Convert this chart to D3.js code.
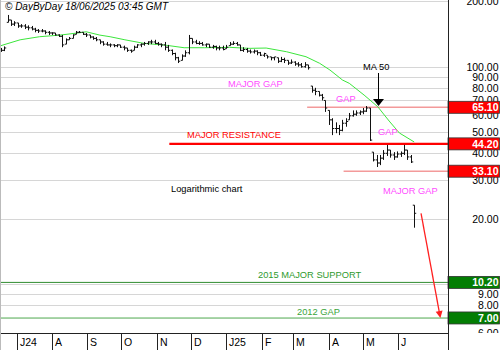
<!DOCTYPE html>
<html>
<head>
<meta charset="utf-8">
<script src="https://cdn.jsdelivr.net/npm/d3@7"></script>
<style>
  body { margin: 0; background: #fff; }
  svg { display: block; font-family: "Liberation Sans", Arial, sans-serif; }
</style>
</head>
<body>
<div id="chart"></div>
<script>
// Price bars: one bar every 3 calendar days starting 17 Jun 2024
var barStart = new Date(2024, 5, 17);
var barStepDays = 3;
var barHigh = [122,124,173,164,162,159,157,157,155,154,151,149,149,147,146,144,143,141,140,135,
  137,141,146,146,144,143,140,138,137,133,131,130,128,127,127,126,125,122,120,125,
  127,128,130,131,133,133,130,128,130,126,120,116,111,114,119,140,135,133,131,130,
  128,127,126,125,125,125,126,130,131,130,126,123,122,120,120,119,117,116,113,111,
  111,110,111,110,107,108,106,105,104,105,102,81.5,80,77,75,70,63,58,55.5,54,
  57,58,61.3,63,63,63,64.6,66,64.6,40.5,39.3,39.3,41.4,43.7,41.4,40.5,40.8,40.8,43.7,41.4,
  39.3,23.1];
var barLow = [117,118,160,154,154,151,151,149,147,147,144,143,144,141,140,140,139,137,123,127,
  133,135,141,143,140,137,135,133,131,127,125,125,123,123,123,122,119,117,116,119,
  122,123,125,126,127,127,125,123,119,117,113,107,104,107,111,114,127,127,126,125,
  123,122,121,119,119,119,121,125,126,125,118,117,116,115,115,113,112,111,109,107,
  107,104,105,104,102,103,101,100,99,99,97,76,74,73,70,62,54,48.5,49.5,48.5,
  50.5,53,57,59,59.5,60,60.5,62,45.6,36.7,34.6,35.3,37.3,38.9,38.2,37.3,38.2,38.5,39.3,37.3,
  36.1,18.2];
var barClose = [119,122,164,157,159,154,154,152,151,149,147,146,146,144,143,143,140,138,126,133,
  135,140,144,144,141,140,137,135,133,130,127,126,126,125,126,123,122,119,118,123,
  126,127,128,130,130,128,127,126,123,119,115,110,106,112,116,135,130,128,128,126,
  127,123,124,122,122,120,123,127,128,126,119,120,118,117,118,116,113,115,111,110,
  111,106,108,107,104,105,103,102,100,102,99,78,77,74,72,64.6,57,52,52,51,
  55,56,59.5,60.5,61.3,62,62.5,64.6,46,37.3,36.1,38,40,41.4,39.3,38.5,39.7,40,41.4,38.5,
  36.5,21.2];

// 50 day moving average
var maDates = ["2024-06-16","2024-07-04","2024-07-21","2024-08-08","2024-08-25","2024-08-31",
  "2024-09-12","2024-09-21","2024-10-04","2024-10-21","2024-11-08","2024-11-25","2024-12-13",
  "2025-01-04","2025-01-21","2025-02-05","2025-02-23","2025-03-12","2025-03-24","2025-04-02",
  "2025-04-13","2025-04-19","2025-05-02","2025-05-14","2025-05-24","2025-06-02","2025-06-15"];
var maValues = [124.5,133,137.4,139.8,143.3,144.8,139.8,137.4,133,128,125.8,122.3,122.3,
  122.8,121.5,121.9,117.2,111.2,103.7,96.6,86.9,83.9,74.1,65.5,56.3,49.6,45.1];

// Right axis (grid on all, labels where not covered by a level box)
var gridTicks = [200, 100, 90, 80, 70, 60, 50, 40, 30, 20, 10, 9, 8, 7, 6];
var labelTicks = [200, 100, 90, 80, 70, 60, 50, 40, 30, 20, 9, 8, 6];

// Key levels
var levelValues = [65.10, 44.20, 33.10, 10.20, 7.00];
var levelFrom = ["2025-03-13", "2024-11-12", "2025-04-14", null, null];
var levelKind = ["gap", "resistance", "gap", "support", "oldgap"];

// Projection arrow (date, price)
var arrowFrom = ["2025-06-21", 21.2];
var arrowTo = ["2025-07-08", 7.0];

var monthLetters = "JFMAMJJASOND";

var W = 500, H = 350, plotRight = 448, plotBottom = 333;
var parse = d3.timeParse("%Y-%m-%d");

var svg = d3.select("#chart").append("svg")
  .attr("width", W).attr("height", H);

var x = d3.scaleTime()
  .domain([new Date(2024, 5, 16, 8), new Date(2025, 6, 14, 16)])
  .range([0, plotRight]);
var y = d3.scaleLog()
  .domain([5.97, 202.7])
  .range([plotBottom, 0]);

// grid
svg.append("g").selectAll("line")
  .data(gridTicks).enter().append("line")
  .attr("x1", 0).attr("x2", plotRight)
  .attr("y1", function(d) { return Math.round(y(d)) + 0.5; })
  .attr("y2", function(d) { return Math.round(y(d)) + 0.5; })
  .attr("stroke", "#d6d6d6");

// right axis labels
svg.append("g").selectAll("text")
  .data(labelTicks).enter().append("text")
  .attr("x", 498.5).attr("y", function(d) { return y(d) + 4; })
  .attr("text-anchor", "end")
  .attr("font-size", "10.5px")
  .text(function(d) { return d3.format(".2f")(d); });

// level lines
var levelStyle = {
  gap: { color: "#f39a9a", w: 1.6 },
  resistance: { color: "#ff0000", w: 2.2 },
  support: { color: "#2e8b2e", w: 1 },
  oldgap: { color: "#8fcb8f", w: 1.6 }
};
levelValues.forEach(function(v, i) {
  var s = levelStyle[levelKind[i]];
  svg.append("line")
    .attr("x1", levelFrom[i] ? x(parse(levelFrom[i])) : 0)
    .attr("x2", plotRight)
    .attr("y1", y(v)).attr("y2", y(v))
    .attr("stroke", s.color).attr("stroke-width", s.w);
});

// moving average
var ma = maDates.map(function(d, i) { return [parse(d), maValues[i]]; });
svg.append("path")
  .datum(ma)
  .attr("fill", "none")
  .attr("stroke", "#3ce63c")
  .attr("stroke-width", 1)
  .attr("d", d3.line()
    .x(function(d) { return x(d[0]); })
    .y(function(d) { return y(d[1]); }));

// price bars
var bars = barClose.map(function(c, i) {
  return {
    date: d3.timeDay.offset(barStart, i * barStepDays),
    high: barHigh[i], low: barLow[i], close: c,
    open: i > 0 ? Math.max(barLow[i], Math.min(barHigh[i], barClose[i - 1])) : c
  };
});
var half = (x(d3.timeDay.offset(barStart, barStepDays)) - x(barStart)) / 2;
var bg = svg.append("g").attr("stroke", "#111").attr("stroke-width", 1);
bars.forEach(function(b) {
  var bx = Math.round(x(b.date)) + 0.5;
  bg.append("line").attr("x1", bx).attr("x2", bx)
    .attr("y1", y(b.high)).attr("y2", y(b.low));
  bg.append("line").attr("x1", bx - half).attr("x2", bx)
    .attr("y1", y(b.open)).attr("y2", y(b.open));
  bg.append("line").attr("x1", bx).attr("x2", bx + half)
    .attr("y1", y(b.close)).attr("y2", y(b.close));
});

// MA 50 pointer
svg.append("line").attr("x1", 378.5).attr("x2", 378.5).attr("y1", 73).attr("y2", 100)
  .attr("stroke", "#000").attr("stroke-width", 1);
svg.append("path").attr("d", "M373,99L384,99L378.5,106Z").attr("fill", "#000");

// projection arrow
var ax1 = x(parse(arrowFrom[0])), ay1 = y(arrowFrom[1]);
var ax2 = x(parse(arrowTo[0])), ay2 = y(arrowTo[1]);
var ang = Math.atan2(ay2 - ay1, ax2 - ax1);
svg.append("line")
  .attr("x1", ax1).attr("y1", ay1)
  .attr("x2", ax2 - 6 * Math.cos(ang)).attr("y2", ay2 - 6 * Math.sin(ang))
  .attr("stroke", "#ff2020").attr("stroke-width", 1.3);
var hx = ax2 - 7 * Math.cos(ang), hy = ay2 - 7 * Math.sin(ang);
svg.append("path")
  .attr("d", "M" + ax2 + "," + ay2 +
    "L" + (hx + 3.5 * Math.sin(ang)) + "," + (hy - 3.5 * Math.cos(ang)) +
    "L" + (hx - 3.5 * Math.sin(ang)) + "," + (hy + 3.5 * Math.cos(ang)) + "Z")
  .attr("fill", "#ff2020");

// annotations
function note(txt, tx, ty, color) {
  svg.append("text").attr("x", tx).attr("y", ty)
    .attr("font-size", "9.3px").attr("fill", color).text(txt);
}
note("MAJOR GAP", 228, 87, "#ff4dff");
note("GAP", 336, 102, "#ff4dff");
note("GAP", 378, 135, "#ff4dff");
note("MAJOR GAP", 383, 194, "#ff4dff");
note("MAJOR RESISTANCE", 187, 138, "#ff0000");
note("MA 50", 363, 70, "#000");
note("Logarithmic chart", 171, 192, "#000");
note("2015 MAJOR SUPPORT", 258, 278, "#2e9a2e");
note("2012 GAP", 297, 315, "#3aa53a");

// x axis area
svg.append("rect").attr("x", 0).attr("y", plotBottom).attr("width", W).attr("height", H - plotBottom)
  .attr("fill", "#fff");
svg.append("line").attr("x1", 0).attr("x2", plotRight)
  .attr("y1", plotBottom + 0.5).attr("y2", plotBottom + 0.5).attr("stroke", "#222");
var months = d3.timeMonth.range(new Date(2024, 6, 1), new Date(2025, 6, 1));
var mg = svg.append("g");
months.forEach(function(m, i) {
  var mx = Math.round(x(m)) + 0.5;
  mg.append("line").attr("x1", mx).attr("x2", mx).attr("y1", plotBottom).attr("y2", H)
    .attr("stroke", "#222");
  var lbl = monthLetters[m.getMonth()];
  if (i === 0 || m.getMonth() === 0) lbl += d3.timeFormat("%y")(m);
  mg.append("text").attr("x", mx + 2.5).attr("y", 346)
    .attr("font-size", "10.5px").text(lbl);
});

// key level boxes
levelValues.forEach(function(v, i) {
  var green = levelKind[i] === "support" || levelKind[i] === "oldgap";
  svg.append("rect")
    .attr("x", plotRight).attr("y", y(v) - 6)
    .attr("width", W - plotRight - 0.5).attr("height", 12)
    .attr("fill", green ? "#037d03" : "#ff0000")
    .attr("stroke", "#333").attr("stroke-width", 0.8);
  svg.append("text")
    .attr("x", 498.5).attr("y", y(v) + 4)
    .attr("text-anchor", "end")
    .attr("font-size", "10.5px").attr("font-weight", "bold")
    .attr("fill", "#fff")
    .text(d3.format(".2f")(v));
});

// frame
svg.append("line").attr("x1", plotRight + 0.5).attr("x2", plotRight + 0.5)
  .attr("y1", 0).attr("y2", H).attr("stroke", "#222");
svg.append("line").attr("x1", 0.5).attr("x2", 0.5)
  .attr("y1", 0).attr("y2", H).attr("stroke", "#bbb");

// title
svg.append("text").attr("x", 5).attr("y", 10)
  .attr("font-size", "10px").attr("font-style", "italic")
  .text("\u00a9 DayByDay 18/06/2025 03:45 GMT");
</script>
</body>
</html>
